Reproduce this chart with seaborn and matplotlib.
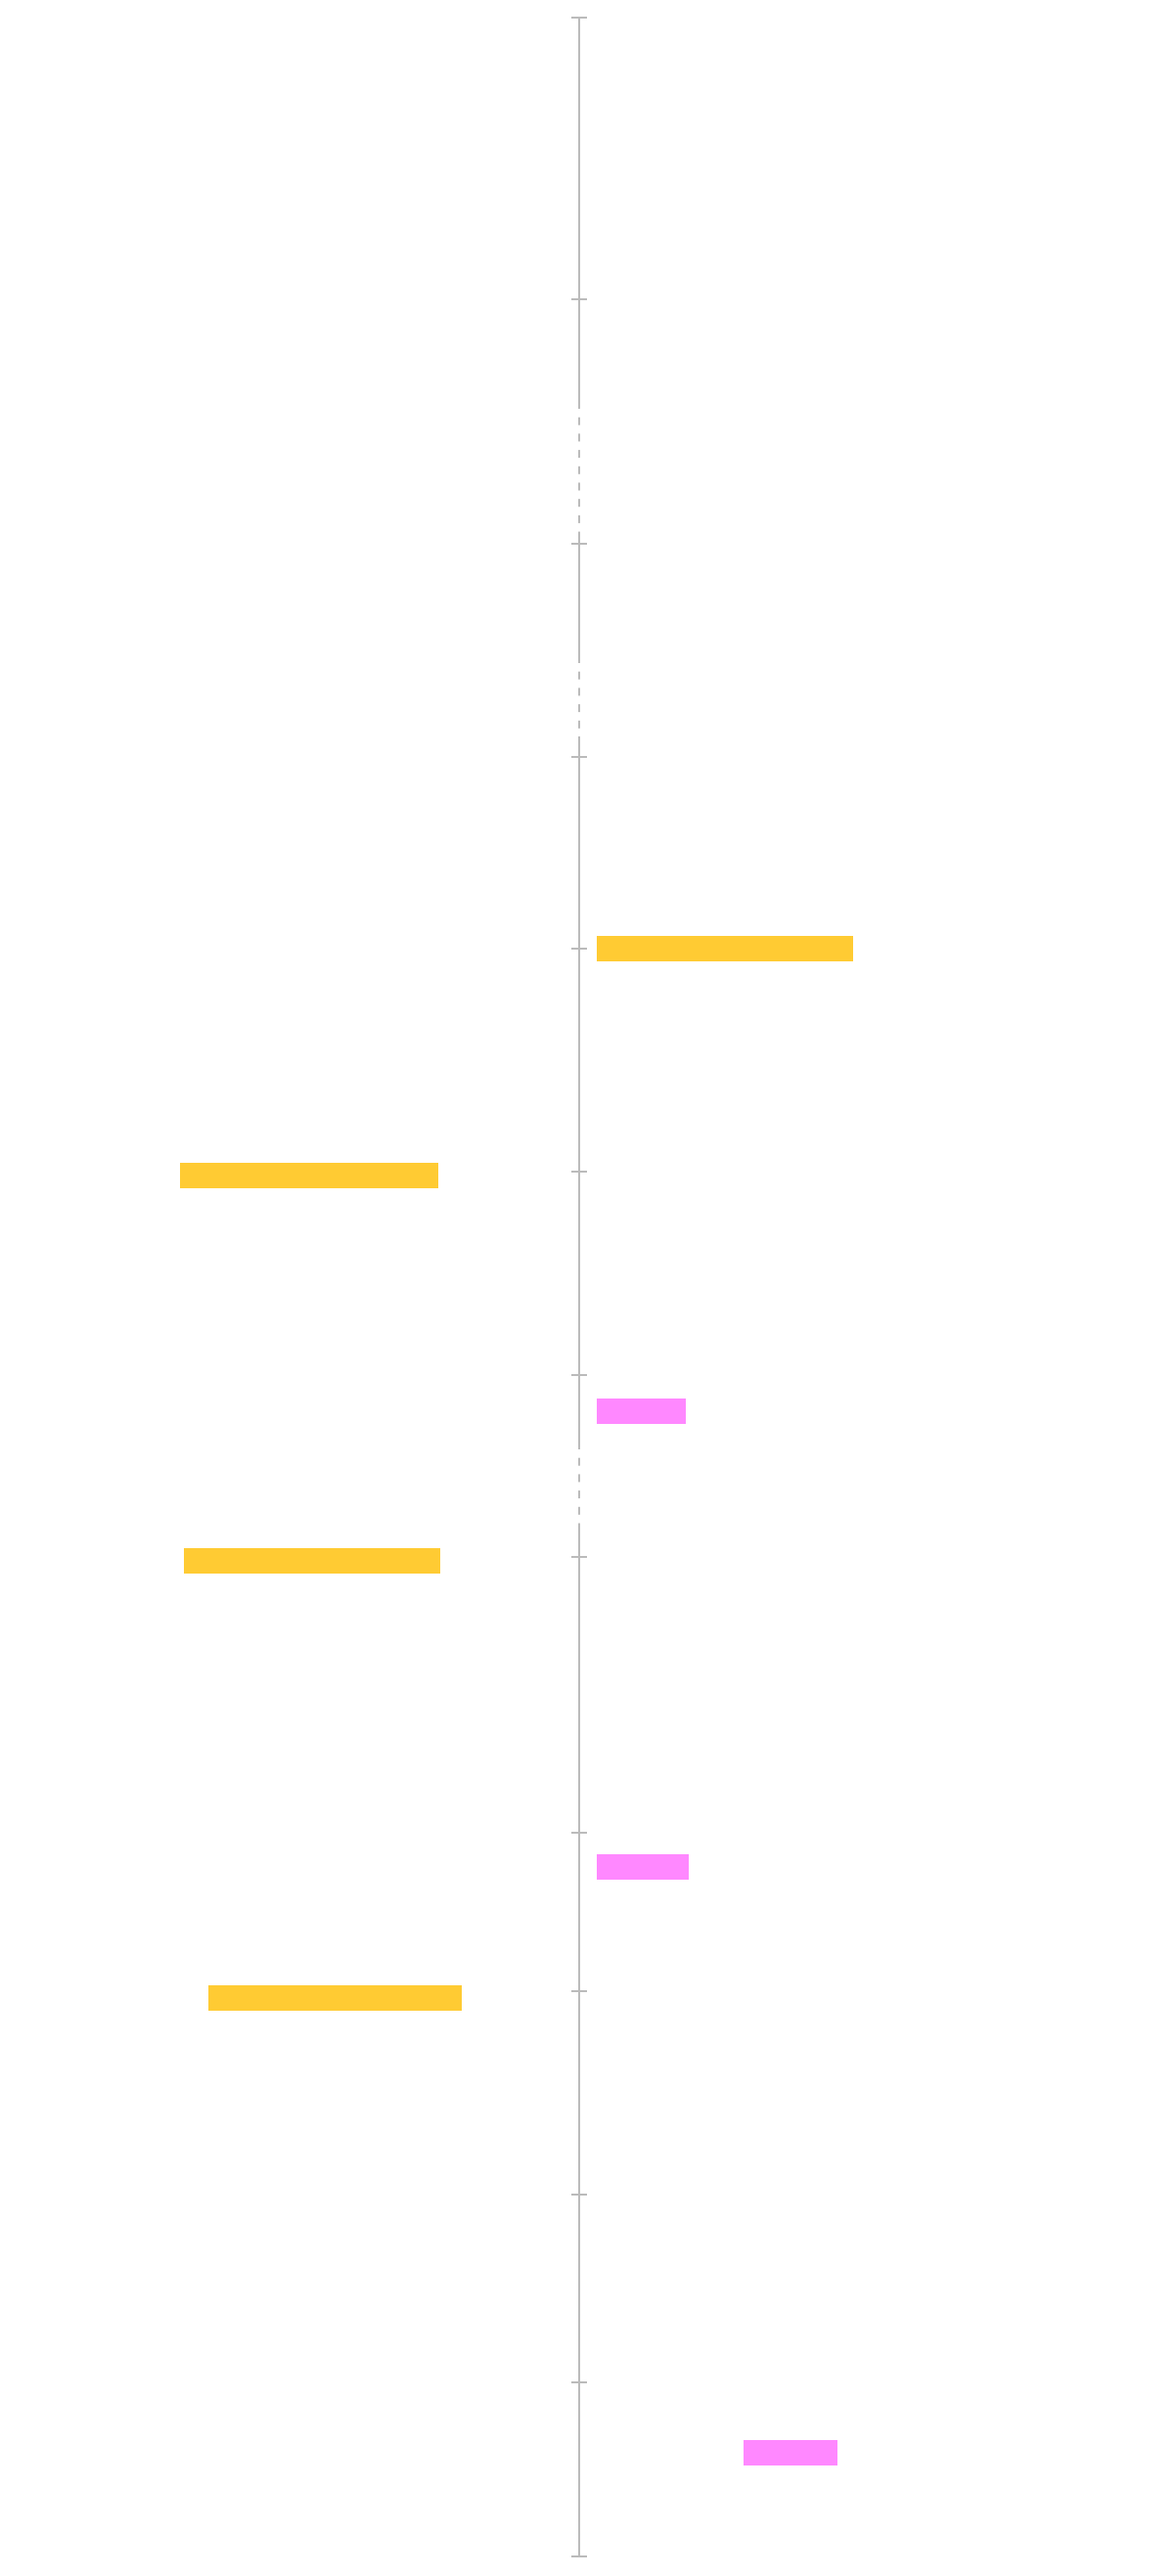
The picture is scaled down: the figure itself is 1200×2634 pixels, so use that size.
import matplotlib
matplotlib.use("Agg")
import matplotlib.pyplot as plt
import seaborn as sns
import pandas as pd

sns.set_style("white")

# timeline positions (top -> bottom)
tick_positions = [18, 306, 556, 774, 970, 1198, 1406, 1592, 1874, 2036, 2244, 2436, 2614]

# axis segments: start, end, style
segment_starts = [18, 410, 544, 670, 753, 1474, 1559]
segment_ends = [410, 544, 670, 753, 1474, 1559, 2614]
segment_dashed = [False, True, False, True, False, True, False]

# events
event_pos = [970, 1202, 1443, 1596, 1909, 2043, 2508]
event_start = [18, -408, 18, -404, 18, -379, 168]
event_length = [262, 264, 91, 262, 94, 259, 96]
event_kind = ["a", "a", "b", "a", "b", "a", "b"]

palette = {"a": "#FFCB33", "b": "#FF88FF"}
axis_color = "#BBBBBB"

df = pd.DataFrame({
    "pos": event_pos,
    "start": event_start,
    "length": event_length,
    "kind": event_kind,
})

fig = plt.figure(figsize=(12, 26.34), dpi=100)
ax = fig.add_axes([0, 0, 1, 1])
ax.set_xlim(-592, 608)
ax.set_ylim(2634, 0)
ax.axis("off")

for s, e, d in zip(segment_starts, segment_ends, segment_dashed):
    if d:
        ax.plot([0, 0], [s, e], color=axis_color, lw=1.44,
                linestyle=(0, (4, 4.35)), solid_capstyle="butt")
    else:
        ax.plot([0, 0], [s, e], color=axis_color, lw=1.44, solid_capstyle="butt")

ax.hlines(tick_positions, -8, 8, color=axis_color, lw=1.44)

ax.barh(df["pos"], df["length"], left=df["start"], height=26,
        color=[palette[k] for k in df["kind"]], linewidth=0)

fig.savefig("out.png", dpi=100, facecolor="white")
